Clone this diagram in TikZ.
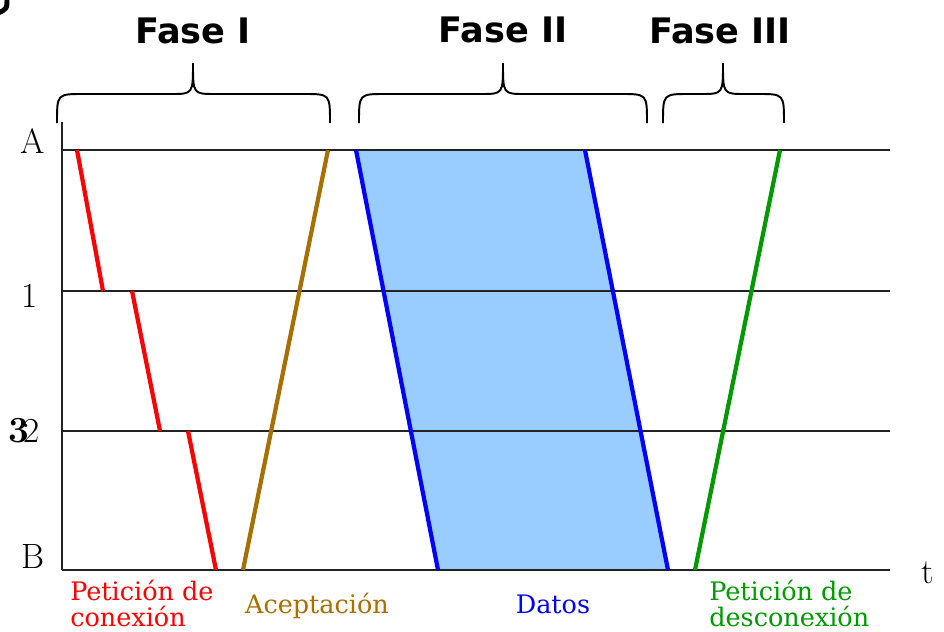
\documentclass[tikz,border=0pt]{standalone}
\usepackage{fontspec}
\newfontfamily\headfont{DejaVu Sans}
\newfontfamily\msgfont{DejaVu Serif}
\definecolor{sigred}{HTML}{FF0000}
\definecolor{sigbrown}{HTML}{A66F00}
\definecolor{sigblue}{HTML}{0000FF}
\definecolor{siggreen}{HTML}{009900}
\definecolor{datafill}{HTML}{99CCFF}
\definecolor{gridline}{HTML}{222222}
\tikzstyle{phasetitle} = [font=\headfont\bfseries\fontsize{20}{24}\selectfont, anchor=base, inner sep=0pt]
\tikzstyle{axislabel} = [font=\fontsize{20}{24}\selectfont, anchor=base, inner sep=0pt]
\tikzstyle{msglabel} = [font=\msgfont\fontsize{14.5}{14.4}\selectfont, align=left, anchor=north west, inner sep=0pt]
\tikzstyle{timeline} = [draw=gridline, line width=1.2pt]
\tikzstyle{signal} = [line width=2.4pt]
\tikzstyle{brace} = [line width=1.1pt]

\begin{document}
\begin{tikzpicture}[x=0.02cm, y=-0.02cm]
\useasboundingbox (0,0) rectangle (944,632);
% fragment in the corner
\draw[line width=2.8pt] (7,-3) .. controls (7,9) .. (-2,13);
% data band
\fill[datafill] (356,150) -- (585,150) -- (668,570) -- (438,570) -- cycle;
% levels
\draw[timeline] (62,122) -- (62,570);
\foreach \y in {150,291,431,570}
  \draw[timeline] (62,\y) -- (890,\y);
% signals
\draw[signal, sigred] (77,150) -- (103,291) (132,291) -- (160,431) (188,431) -- (216,570);
\draw[signal, sigbrown] (243,570) -- (328,150);
\draw[signal, sigblue] (356,150) -- (438,570) (585,150) -- (668,570);
\draw[signal, siggreen] (695,570) -- (780,150);
% braces
\foreach \l/\m/\r in {57/193/330, 359/503/647, 663/723/784}
  \draw[brace] (\l,123) .. controls (\l,94) .. ({\l+26},94) -- ({\m-22},94)
    .. controls (\m,94) .. (\m,63) .. controls (\m,94) .. ({\m+22},94)
    -- ({\r-26},94) .. controls (\r,94) .. (\r,123);

\node (fase1) [phasetitle] at (193,43) {Fase I};
\node (fase2) [phasetitle] at (503,42) {Fase II};
\node (fase3) [phasetitle] at (720,43) {Fase III};

\node (labA) [axislabel] at (33,153) {A};
\node (lab1) [axislabel] at (30,307) {1};
\node (lab2) [axislabel] at (32,442) {2};
\node (lab3) [axislabel, font=\fontsize{21}{24}\selectfont\bfseries] at (19,442) {3};
\node (labB) [axislabel] at (33,568) {B};
\node (labt) [axislabel] at (928,583) {t};

\node (reqcon) [msglabel, sigred] at (70,580) {Petición de\\conexión};
\node (accept) [msglabel, sigbrown, anchor=base] at (317,613) {Aceptación};
\node (data) [msglabel, sigblue, anchor=base] at (553,613) {Datos};
\node (reqdis) [msglabel, siggreen] at (709,580) {Petición de\\desconexión};
\end{tikzpicture}
\end{document}
